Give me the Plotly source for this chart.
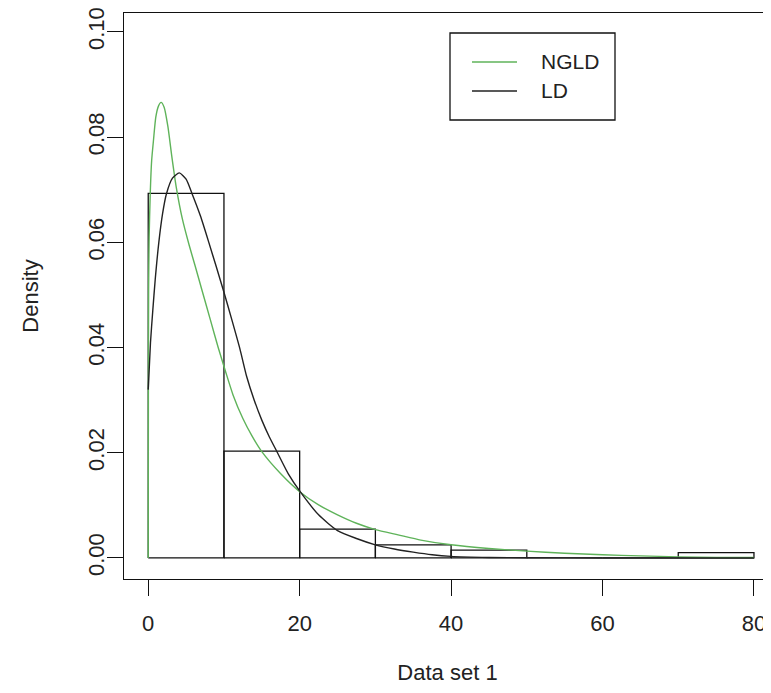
import plotly.graph_objects as go

# Histogram (density scale)
bin_edges = [0, 10, 20, 30, 40, 50, 60, 70, 80]
bin_density = [0.0693, 0.0203, 0.0055, 0.0025, 0.0015, 0.0, 0.0, 0.001]

# NGLD fitted density (green)
ngld_x = [0, 0.02, 0.05, 0.12, 0.26, 0.45, 0.7, 1.0, 1.35, 1.7, 2.1, 2.6, 3.1, 3.7,
          4.5, 5.4, 6.2, 7.08, 8.2, 9.24, 10.2, 11.2, 12.5, 13.7, 15.0, 17.5, 20.0,
          22.5, 25.0, 27.5, 30.0, 33.0, 36.0, 40.0, 45.0, 50.0, 55.0, 60.0, 65.0,
          70.0, 75.0, 80.0]
ngld_y = [0, 0.030, 0.051, 0.061, 0.069, 0.0755, 0.0795, 0.0838, 0.0859, 0.0866,
          0.0857, 0.0820, 0.0765, 0.0705, 0.0645, 0.0595, 0.0555, 0.0510, 0.0453,
          0.0400, 0.0355, 0.0310, 0.0265, 0.0232, 0.0202, 0.0160, 0.0126, 0.0101,
          0.0082, 0.0066, 0.0054, 0.0044, 0.0034, 0.0025, 0.0018, 0.0013, 0.0009,
          0.0006, 0.0004, 0.0002, 0.0001, 0.0001]

# LD fitted density (black)
ld_x = [0, 0.3, 0.6, 0.92, 1.4, 1.9, 2.4, 3.2, 4.1, 5.0, 5.8, 6.9, 8.0, 9.0, 10.0,
        11.0, 12.1, 13.0, 14.0, 15.0, 16.0, 17.0, 18.5, 20.07, 22.5, 25.0, 27.5,
        30.0, 32.5, 35.0, 37.5, 40.0, 45.0, 50.0, 60.0, 70.0, 80.0]
ld_y = [0.032, 0.041, 0.047, 0.0529, 0.0600, 0.0655, 0.0692, 0.0722, 0.0732, 0.0720,
        0.0692, 0.0650, 0.0600, 0.0553, 0.0505, 0.0455, 0.0398, 0.0345, 0.0300,
        0.0262, 0.0230, 0.0202, 0.0160, 0.0126, 0.0082, 0.0052, 0.0037, 0.0025,
        0.0017, 0.0011, 0.0006, 0.0003, 0.0001, 0.00003, 0.0, 0.0, 0.0]

x_ticks = [0, 20, 40, 60, 80]
y_ticks = [0.00, 0.02, 0.04, 0.06, 0.08, 0.10]
y_tick_text = ["0.00", "0.02", "0.04", "0.06", "0.08", "0.10"]

FONT = "Liberation Sans, Arial, Helvetica, sans-serif"
TXT = "#222222"

# build rectangle outlines of histogram bins from the data
hx, hy = [], []
for i, d in enumerate(bin_density):
    a, b = bin_edges[i], bin_edges[i + 1]
    hx += [a, a, b, b, a, None]
    hy += [0, d, d, 0, 0, None]

fig = go.Figure()
fig.add_trace(go.Scatter(x=hx, y=hy, mode="lines", line=dict(color="#111111", width=1.3),
                         showlegend=False, hoverinfo="skip"))
fig.add_trace(go.Scatter(x=ngld_x, y=ngld_y, mode="lines", name="NGLD",
                         line=dict(color="#5fb35a", width=1.4, shape="spline", smoothing=0.6),
                         showlegend=False))
fig.add_trace(go.Scatter(x=ld_x, y=ld_y, mode="lines", name="LD",
                         line=dict(color="#222222", width=1.4, shape="spline", smoothing=0.6),
                         showlegend=False))

# page body has an 8px margin: the figure is drawn at (8, 8)
OFF = 8
W, H = 771 - OFF, 693 - 2 * OFF
ml, mr, mt = 124 - OFF, 0, 13 - OFF
mb = H - (579 - OFF)
pw, ph = W - ml - mr, H - mt - mb


def px2paper(px, py):
    # px, py in window pixels
    return (px - OFF - ml) / pw, (H - mb - (py - OFF)) / ph


# manual legend in R style
lx0, ly0 = px2paper(450, 33)
lx1, ly1 = px2paper(615, 120)
fig.add_shape(type="rect", xref="paper", yref="paper", x0=lx0, y0=ly1, x1=lx1, y1=ly0,
              line=dict(color="#111111", width=1.3), fillcolor="white")
legend_items = [("NGLD", "#5fb35a", 62), ("LD", "#222222", 91)]
for name, col, py in legend_items:
    a, yy = px2paper(472, py)
    b, _ = px2paper(517, py)
    fig.add_shape(type="line", xref="paper", yref="paper", x0=a, x1=b, y0=yy, y1=yy,
                  line=dict(color=col, width=1.4))
    tx, _ = px2paper(539, py)
    fig.add_annotation(text=name, xref="paper", yref="paper", x=tx, y=yy, xanchor="left",
                       yanchor="middle", showarrow=False, font=dict(family=FONT, size=21, color=TXT))

fig.update_layout(
    width=W, height=H,
    margin=dict(l=ml, r=mr, t=mt, b=mb, autoexpand=False),
    paper_bgcolor="white", plot_bgcolor="white",
    font=dict(family=FONT, size=22, color=TXT),
    showlegend=False,
)
fig.update_xaxes(range=[-3.2, 82.25], tickvals=x_ticks, ticks="outside", ticklen=16,
                 tickwidth=1.3, tickcolor="#111111", showline=True, linecolor="#111111",
                 linewidth=1.3, mirror=True, showgrid=False, zeroline=False,
                 ticklabelstandoff=8, ticklabeloverflow="allow",
                 title=dict(text="Data set 1", standoff=30, font=dict(size=22)),
                 tickfont=dict(size=22))
fig.update_yaxes(range=[-0.004, 0.1036], tickvals=y_ticks, ticktext=y_tick_text,
                 ticks="outside", ticklen=16, tickwidth=1.3, tickcolor="#111111",
                 showline=True, linecolor="#111111", linewidth=1.3, showgrid=False,
                 zeroline=False, tickangle=-90, tickfont=dict(size=22),
                 ticklabelstandoff=-6, ticklabeloverflow="allow",
                 title=dict(text="Density", standoff=39, font=dict(size=22)))

fig.write_html("out.html")
